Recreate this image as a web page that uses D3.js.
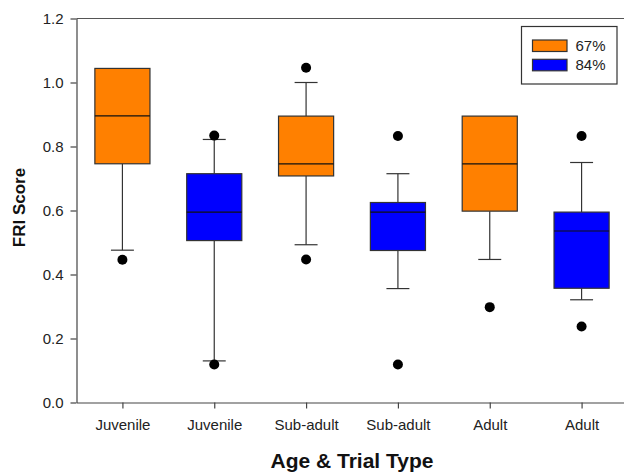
<!DOCTYPE html>
<html>
<head>
<meta charset="utf-8">
<script src="https://cdn.jsdelivr.net/npm/d3@7"></script>
<style>
  html, body { margin: 0; padding: 0; background: #fff; }
  svg { display: block; font-family: "Liberation Sans", Arial, sans-serif; }
</style>
</head>
<body>
<svg id="chart" width="624" height="472"></svg>
<script>
// ---- data ----
const categories = ["Juvenile", "Juvenile", "Sub-adult", "Sub-adult", "Adult", "Adult"];
const seriesOf   = ["67%", "84%", "67%", "84%", "67%", "84%"];
const whiskerLow  = [0.476, 0.130, 0.493, 0.356, 0.447, 0.321];
const q1Values    = [0.746, 0.506, 0.708, 0.475, 0.598, 0.357];
const medians     = [0.896, 0.595, 0.746, 0.595, 0.746, 0.536];
const q3Values    = [1.044, 0.715, 0.895, 0.625, 0.895, 0.595];
const whiskerHigh = [1.044, 0.822, 1.000, 0.715, 0.895, 0.750];
const outliers    = [[0.446], [0.119, 0.834], [0.447, 1.046], [0.119, 0.833], [0.298], [0.2375, 0.833]];
const yTicks = [0, 0.2, 0.4, 0.6, 0.8, 1.0, 1.2];
const seriesNames = ["67%", "84%"];
const seriesColors = ["#FF8000", "#0000FF"];

(function () {
// ---- layout ----
const svg = d3.select("#chart");
const pL = 76.5, pT = 18.5, pB = 402.5, pR = 627.5;

const x = d3.scaleLinear().domain([0.5, 6.5]).range([pL, pR]);
const y = d3.scaleLinear().domain([0, 1.2]).range([pB, pT]);
const color = d3.scaleOrdinal().domain(seriesNames).range(seriesColors);

const step = x(2) - x(1);
const boxW = step * 0.6;
const capW = step * 0.25;
const idx = d3.range(categories.length);
const stroke = "#333";

// frame (top line + right)
svg.append("path")
  .attr("d", `M${pL},${pT}H${pR}V${pB}`)
  .attr("fill", "none").attr("stroke", "#555").attr("stroke-width", 1.2);

// axes
const yAxis = d3.axisLeft(y).tickValues(yTicks).tickFormat(d3.format(".1f"))
  .tickSizeInner(6).tickSizeOuter(0).tickPadding(7);
const gy = svg.append("g").attr("transform", `translate(${pL},0)`).call(yAxis);
gy.selectAll("text").attr("font-size", 15).attr("fill", "#222").attr("font-family", "Liberation Sans, Arial, sans-serif");
gy.selectAll("line,path").attr("stroke", "#444").attr("stroke-width", 1.2);

const xAxis = d3.axisBottom(x).tickValues(idx.map(i => i + 1))
  .tickFormat(d => categories[d - 1]).tickSizeInner(6).tickSizeOuter(0).tickPadding(10.5);
const gx = svg.append("g").attr("transform", `translate(0,${pB})`).call(xAxis);
gx.selectAll("text").attr("font-size", 15).attr("fill", "#222").attr("font-family", "Liberation Sans, Arial, sans-serif");
gx.selectAll("line,path").attr("stroke", "#444").attr("stroke-width", 1.2);

// boxes
const g = svg.append("g");
idx.forEach(i => {
  const cx = x(i + 1);
  const gi = g.append("g");
  if (whiskerLow[i] < q1Values[i]) {
    gi.append("line").attr("x1", cx).attr("x2", cx)
      .attr("y1", y(q1Values[i])).attr("y2", y(whiskerLow[i]))
      .attr("stroke", stroke).attr("stroke-width", 1.2);
    gi.append("line").attr("x1", cx - capW / 2).attr("x2", cx + capW / 2)
      .attr("y1", y(whiskerLow[i])).attr("y2", y(whiskerLow[i]))
      .attr("stroke", stroke).attr("stroke-width", 1.2);
  }
  if (whiskerHigh[i] > q3Values[i]) {
    gi.append("line").attr("x1", cx).attr("x2", cx)
      .attr("y1", y(q3Values[i])).attr("y2", y(whiskerHigh[i]))
      .attr("stroke", stroke).attr("stroke-width", 1.2);
    gi.append("line").attr("x1", cx - capW / 2).attr("x2", cx + capW / 2)
      .attr("y1", y(whiskerHigh[i])).attr("y2", y(whiskerHigh[i]))
      .attr("stroke", stroke).attr("stroke-width", 1.2);
  }
  gi.append("rect")
    .attr("x", cx - boxW / 2).attr("width", boxW)
    .attr("y", y(q3Values[i])).attr("height", y(q1Values[i]) - y(q3Values[i]))
    .attr("fill", color(seriesOf[i])).attr("stroke", stroke).attr("stroke-width", 1.2);
  gi.append("line").attr("x1", cx - boxW / 2).attr("x2", cx + boxW / 2)
    .attr("y1", y(medians[i])).attr("y2", y(medians[i]))
    .attr("stroke", "#111").attr("stroke-width", 1.2);
  gi.selectAll("circle").data(outliers[i]).join("circle")
    .attr("cx", cx).attr("cy", d => y(d)).attr("r", 5).attr("fill", "#000");
});

// axis titles
svg.append("text").attr("x", (pL + pR) / 2).attr("y", 467.5)
  .attr("text-anchor", "middle").attr("font-size", 21).attr("font-weight", "bold")
  .attr("fill", "#111").text("Age & Trial Type");
svg.append("text").attr("transform", `translate(25,207.5) rotate(-90)`)
  .attr("text-anchor", "middle").attr("font-size", 17).attr("font-weight", "bold")
  .attr("fill", "#111").text("FRI Score");

// legend
const lg = svg.append("g");
lg.append("rect").attr("x", 521.5).attr("y", 26.5).attr("width", 95.5).attr("height", 57.5)
  .attr("fill", "#fff").attr("stroke", "#333").attr("stroke-width", 1.2);
seriesNames.forEach((s, k) => {
  const yy = 40 + k * 19.3;
  lg.append("rect").attr("x", 532.5).attr("y", yy).attr("width", 34.5).attr("height", 11.5)
    .attr("fill", color(s)).attr("stroke", stroke).attr("stroke-width", 1.2);
  lg.append("text").attr("x", 575.5).attr("y", yy + 11).attr("font-size", 15)
    .attr("fill", "#222").text(s);
});
})();
</script>
</body>
</html>
